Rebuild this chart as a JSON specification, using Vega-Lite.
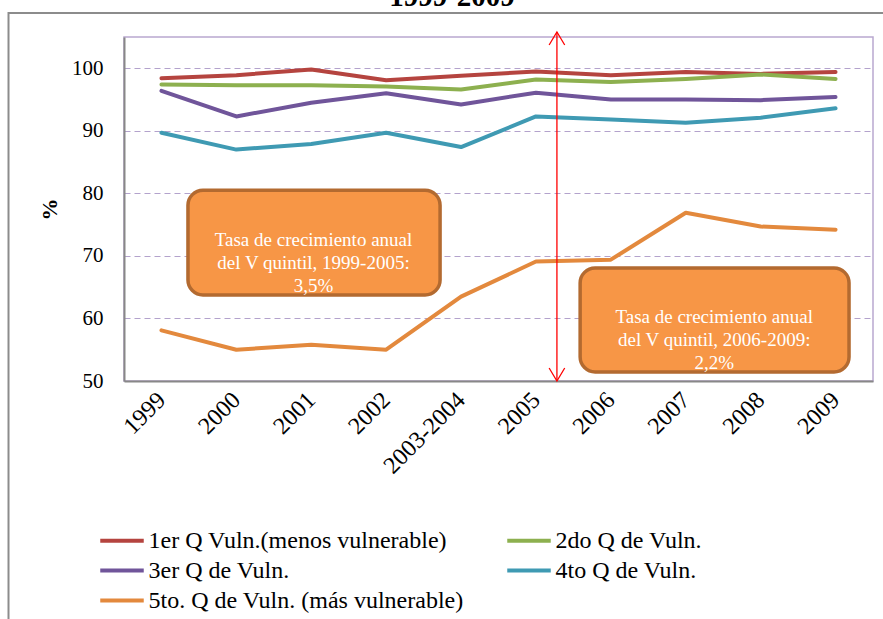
{
  "$schema": "https://vega.github.io/schema/vega-lite/v6.json",
  "width": 749,
  "height": 344,
  "autosize": {"type": "none"},
  "padding": {"left": 124, "top": 37, "right": 10, "bottom": 238},
  "background": "white",
  "config": {
    "view": {"stroke": "#B9A8D0", "strokeWidth": 1.5},
    "font": "Liberation Serif"
  },
  "datasets": {
    "series": [
      {"i": 0, "year": "1999", "q": "1er Q Vuln.(menos vulnerable)", "v": 98.4},
      {"i": 1, "year": "2000", "q": "1er Q Vuln.(menos vulnerable)", "v": 98.9},
      {"i": 2, "year": "2001", "q": "1er Q Vuln.(menos vulnerable)", "v": 99.8},
      {"i": 3, "year": "2002", "q": "1er Q Vuln.(menos vulnerable)", "v": 98.1},
      {"i": 4, "year": "2003-2004", "q": "1er Q Vuln.(menos vulnerable)", "v": 98.8},
      {"i": 5, "year": "2005", "q": "1er Q Vuln.(menos vulnerable)", "v": 99.5},
      {"i": 6, "year": "2006", "q": "1er Q Vuln.(menos vulnerable)", "v": 98.9},
      {"i": 7, "year": "2007", "q": "1er Q Vuln.(menos vulnerable)", "v": 99.4},
      {"i": 8, "year": "2008", "q": "1er Q Vuln.(menos vulnerable)", "v": 99.1},
      {"i": 9, "year": "2009", "q": "1er Q Vuln.(menos vulnerable)", "v": 99.4},
      {"i": 0, "year": "1999", "q": "2do Q de Vuln.", "v": 97.4},
      {"i": 1, "year": "2000", "q": "2do Q de Vuln.", "v": 97.3},
      {"i": 2, "year": "2001", "q": "2do Q de Vuln.", "v": 97.3},
      {"i": 3, "year": "2002", "q": "2do Q de Vuln.", "v": 97.1},
      {"i": 4, "year": "2003-2004", "q": "2do Q de Vuln.", "v": 96.6},
      {"i": 5, "year": "2005", "q": "2do Q de Vuln.", "v": 98.2},
      {"i": 6, "year": "2006", "q": "2do Q de Vuln.", "v": 97.8},
      {"i": 7, "year": "2007", "q": "2do Q de Vuln.", "v": 98.3},
      {"i": 8, "year": "2008", "q": "2do Q de Vuln.", "v": 99.0},
      {"i": 9, "year": "2009", "q": "2do Q de Vuln.", "v": 98.3},
      {"i": 0, "year": "1999", "q": "3er Q de Vuln.", "v": 96.4},
      {"i": 1, "year": "2000", "q": "3er Q de Vuln.", "v": 92.3},
      {"i": 2, "year": "2001", "q": "3er Q de Vuln.", "v": 94.5},
      {"i": 3, "year": "2002", "q": "3er Q de Vuln.", "v": 96.0},
      {"i": 4, "year": "2003-2004", "q": "3er Q de Vuln.", "v": 94.2},
      {"i": 5, "year": "2005", "q": "3er Q de Vuln.", "v": 96.1},
      {"i": 6, "year": "2006", "q": "3er Q de Vuln.", "v": 95.0},
      {"i": 7, "year": "2007", "q": "3er Q de Vuln.", "v": 95.0},
      {"i": 8, "year": "2008", "q": "3er Q de Vuln.", "v": 94.9},
      {"i": 9, "year": "2009", "q": "3er Q de Vuln.", "v": 95.4},
      {"i": 0, "year": "1999", "q": "4to Q de Vuln.", "v": 89.7},
      {"i": 1, "year": "2000", "q": "4to Q de Vuln.", "v": 87.0},
      {"i": 2, "year": "2001", "q": "4to Q de Vuln.", "v": 87.9},
      {"i": 3, "year": "2002", "q": "4to Q de Vuln.", "v": 89.7},
      {"i": 4, "year": "2003-2004", "q": "4to Q de Vuln.", "v": 87.4},
      {"i": 5, "year": "2005", "q": "4to Q de Vuln.", "v": 92.3},
      {"i": 6, "year": "2006", "q": "4to Q de Vuln.", "v": 91.8},
      {"i": 7, "year": "2007", "q": "4to Q de Vuln.", "v": 91.3},
      {"i": 8, "year": "2008", "q": "4to Q de Vuln.", "v": 92.1},
      {"i": 9, "year": "2009", "q": "4to Q de Vuln.", "v": 93.6},
      {"i": 0, "year": "1999", "q": "5to. Q de Vuln. (más vulnerable)", "v": 58.1},
      {"i": 1, "year": "2000", "q": "5to. Q de Vuln. (más vulnerable)", "v": 55.0},
      {"i": 2, "year": "2001", "q": "5to. Q de Vuln. (más vulnerable)", "v": 55.8},
      {"i": 3, "year": "2002", "q": "5to. Q de Vuln. (más vulnerable)", "v": 55.0},
      {"i": 4, "year": "2003-2004", "q": "5to. Q de Vuln. (más vulnerable)", "v": 63.5},
      {"i": 5, "year": "2005", "q": "5to. Q de Vuln. (más vulnerable)", "v": 69.1},
      {"i": 6, "year": "2006", "q": "5to. Q de Vuln. (más vulnerable)", "v": 69.4},
      {"i": 7, "year": "2007", "q": "5to. Q de Vuln. (más vulnerable)", "v": 76.9},
      {"i": 8, "year": "2008", "q": "5to. Q de Vuln. (más vulnerable)", "v": 74.7},
      {"i": 9, "year": "2009", "q": "5to. Q de Vuln. (más vulnerable)", "v": 74.2}
    ],
    "boxes": [
      {"x": 0.354, "x2": 3.72, "y": 80.5, "y2": 63.75, "cx": 2.03, "cy": 72.54, "label": "Tasa de crecimiento anual\ndel V quintil,  1999-2005:\n3,5%"},
      {"x": 5.59, "x2": 9.18, "y": 68.07, "y2": 51.44, "cx": 7.38, "cy": 60.23, "label": "Tasa de crecimiento anual\ndel V quintil,  2006-2009:\n2,2%"}
    ],
    "arrow": [
      {"x": 5.28, "top": 105.8, "bottom": 50}
    ],
    "frame": [
      {"x": -2.042, "x2": 12, "y": 108.84, "y2": 0}
    ],
    "heading": [
      {"x": 3.879, "y": 109.9, "text": "1999-2009"}
    ]
  },
  "layer": [
    {
      "data": {"name": "frame"},
      "mark": {"type": "rect", "fill": null, "stroke": "#8C8C8C", "strokeWidth": 2},
      "encoding": {
        "x": {"field": "x", "type": "quantitative"},
        "x2": {"field": "x2"},
        "y": {"field": "y", "type": "quantitative"},
        "y2": {"field": "y2"}
      }
    },
    {
      "data": {"name": "heading"},
      "mark": {"type": "text", "font": "Liberation Serif", "fontSize": 29, "fontWeight": "bold", "color": "black", "align": "center", "baseline": "alphabetic"},
      "encoding": {
        "x": {"field": "x", "type": "quantitative"},
        "y": {"field": "y", "type": "quantitative"},
        "text": {"field": "text"}
      }
    },
    {
      "data": {"name": "series"},
      "mark": {"type": "line", "strokeWidth": 4, "strokeJoin": "round", "strokeCap": "round"},
      "encoding": {
        "x": {
          "field": "i",
          "type": "quantitative",
          "scale": {"domain": [-0.5, 9.5], "nice": false, "zero": false},
          "axis": {
            "title": null,
            "values": [0, 1, 2, 3, 4, 5, 6, 7, 8, 9],
            "labelExpr": "['1999','2000','2001','2002','2003-2004','2005','2006','2007','2008','2009'][datum.value]",
            "labelAngle": -45,
            "labelAlign": "right",
            "labelBaseline": "middle",
            "labelPadding": 15,
            "labelFont": "Liberation Serif",
            "labelFontSize": 24,
            "labelColor": "black",
            "labelOverlap": false,
            "labelFlush": false,
            "ticks": false,
            "grid": false,
            "domainColor": "#888888",
            "domainWidth": 2
          }
        },
        "y": {
          "field": "v",
          "type": "quantitative",
          "scale": {"domain": [50, 105], "nice": false, "zero": false},
          "axis": {
            "title": "%",
            "titleFont": "Liberation Serif",
            "titleFontSize": 22,
            "titleFontWeight": "bold",
            "titleColor": "black",
            "titlePadding": 10,
            "values": [50, 60, 70, 80, 90, 100],
            "labelFont": "Liberation Serif",
            "labelFontSize": 21,
            "labelColor": "black",
            "labelPadding": 21,
            "ticks": false,
            "grid": true,
            "gridColor": "#B3A2CC",
            "gridDash": [6, 4],
            "gridWidth": 1.2,
            "domainColor": "#888888",
            "domainWidth": 2
          }
        },
        "color": {
          "field": "q",
          "type": "nominal",
          "scale": {
            "domain": ["1er Q Vuln.(menos vulnerable)", "2do Q de Vuln.", "3er Q de Vuln.", "4to Q de Vuln.", "5to. Q de Vuln. (más vulnerable)"],
            "range": ["#B5443F", "#8DB04F", "#70559A", "#3F9AB3", "#E3893D"]
          },
          "legend": {
            "title": null,
            "orient": "none",
            "direction": "horizontal",
            "legendX": -18.5,
            "legendY": 487,
            "columns": 2,
            "columnPadding": 34,
            "rowPadding": 1,
            "padding": 0,
            "symbolType": "M-1.5,0L1.5,0",
            "symbolSize": 841,
            "symbolStrokeWidth": 4,
            "labelFont": "Liberation Serif",
            "labelFontSize": 24,
            "labelColor": "black",
            "labelOffset": 10,
            "labelLimit": 0
          }
        }
      }
    },
    {
      "data": {"name": "boxes"},
      "mark": {"type": "rect", "fill": "#F79646", "stroke": "#B36A30", "strokeWidth": 3.5, "cornerRadius": 15},
      "encoding": {
        "x": {"field": "x", "type": "quantitative"},
        "x2": {"field": "x2"},
        "y": {"field": "y", "type": "quantitative"},
        "y2": {"field": "y2"}
      }
    },
    {
      "data": {"name": "boxes"},
      "mark": {"type": "text", "font": "Liberation Serif", "fontSize": 19, "color": "white", "lineBreak": "\n", "lineHeight": 23, "align": "center", "baseline": "middle"},
      "encoding": {
        "x": {"field": "cx", "type": "quantitative"},
        "y": {"field": "cy", "type": "quantitative"},
        "text": {"field": "label"}
      }
    },
    {
      "data": {"name": "arrow"},
      "mark": {"type": "rule", "color": "#FF0000", "strokeWidth": 1.3},
      "encoding": {
        "x": {"field": "x", "type": "quantitative"},
        "y": {"field": "top", "type": "quantitative"},
        "y2": {"field": "bottom"}
      }
    },
    {
      "data": {"name": "arrow"},
      "mark": {"type": "point", "shape": "M-0.6,1L0,0L0.6,1", "size": 676, "filled": false, "stroke": "#FF0000", "strokeWidth": 1.3, "opacity": 1},
      "encoding": {
        "x": {"field": "x", "type": "quantitative"},
        "y": {"field": "top", "type": "quantitative"}
      }
    },
    {
      "data": {"name": "arrow"},
      "mark": {"type": "point", "shape": "M-0.6,-1L0,0L0.6,-1", "size": 676, "filled": false, "stroke": "#FF0000", "strokeWidth": 1.3, "opacity": 1},
      "encoding": {
        "x": {"field": "x", "type": "quantitative"},
        "y": {"field": "bottom", "type": "quantitative"}
      }
    }
  ]
}
